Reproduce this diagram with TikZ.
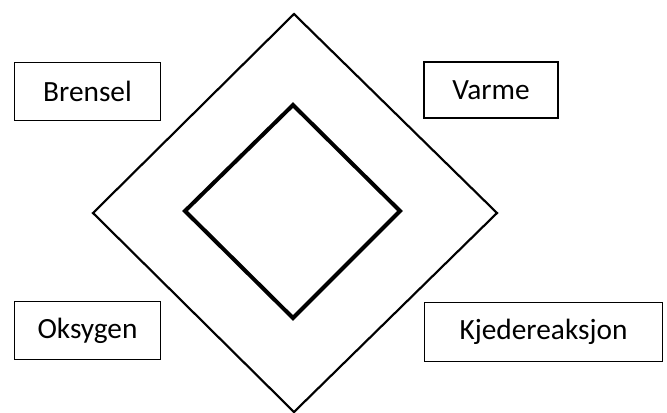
\documentclass[tikz,border=0pt]{standalone}
\usepackage{fontspec}
\setmainfont{Carlito}
\begin{document}
\begin{tikzpicture}[x=0.75pt,y=-0.75pt,line width=0.9pt,every node/.style={font=\fontsize{22}{26}\selectfont,inner sep=0pt},
  factor/.style={draw,line width=0.9pt,minimum height=44pt}]
\useasboundingbox (0,0) rectangle (667,412);
\draw[line width=1.6pt] (294,14) -- (497,213) -- (294,412) -- (93,213) -- cycle;
\draw[line width=3pt] (293,105) -- (400,211) -- (293,318) -- (185,211) -- cycle;
\node[factor,minimum width=110pt] (brensel) at (87.5,91.5) {Brensel};
\node[factor,minimum width=100.5pt,minimum height=42pt] (varme) at (491,90) {Varme};
\node[factor,minimum width=110pt] (oksygen) at (87.5,330.5) {Oksygen};
\node[factor,minimum width=179pt] (kjede) at (543.5,332) {Kjedereaksjon};
\end{tikzpicture}
\end{document}
